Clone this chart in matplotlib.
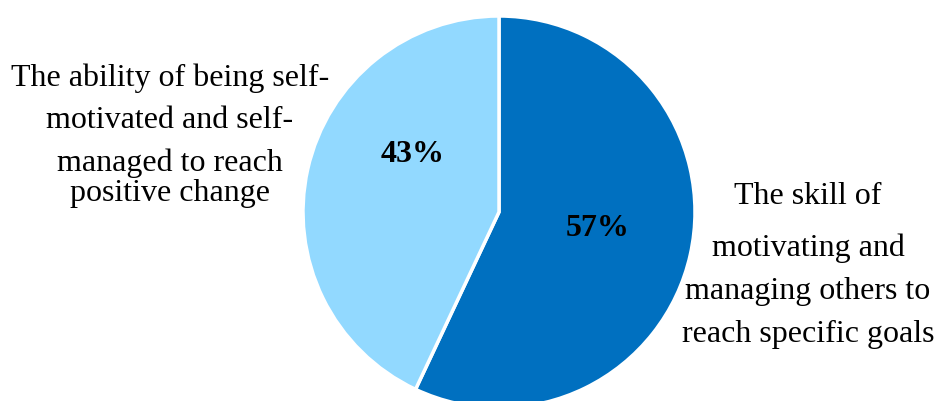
import matplotlib.pyplot as plt

# slices, clockwise from 12 o'clock
labels = ['The skill of motivating and managing others to reach specific goals',
          'The ability of being self-motivated and self-managed to reach positive change']
shares = [57, 43]
colors = ['#0070C0', '#92D9FF']

# category text broken the way the original figure breaks it
left_lines = ['The ability of being self-', 'motivated and self-',
              'managed to reach', 'positive change']
right_lines = ['The skill of', 'motivating and',
               'managing others to', 'reach specific goals']

plt.rcParams['font.family'] = ['Liberation Serif', 'DejaVu Serif']

W, H = 934, 401
fig = plt.figure(figsize=(W / 100, H / 100), dpi=100)
ax = fig.add_axes([0, 0, 1, 1])
ax.set_xlim(0, W)
ax.set_ylim(0, H)
ax.set_aspect('equal')
ax.axis('off')

cx, cy, r = 499, H - 212, 196
wedges, _, autotexts = ax.pie(
    shares, colors=colors, startangle=90, counterclock=False,
    center=(cx, cy), radius=r, autopct='%d%%', pctdistance=0.5,
    wedgeprops={'edgecolor': 'white', 'linewidth': 2.5},
    textprops={'fontsize': 23, 'fontweight': 'bold', 'color': 'black'})
ax.set_xlim(0, W)
ax.set_ylim(0, H)
autotexts[0].set_position((598, H - 229))
autotexts[1].set_position((413, H - 155))

for y, s in zip([78, 121, 163, 193], left_lines):
    ax.text(170, H - y, s, ha='center', va='center', fontsize=23)
for y, s in zip([196, 248, 292, 334], right_lines):
    ax.text(808, H - y, s, ha='center', va='center', fontsize=23)

fig.savefig('out.png', dpi=100)
